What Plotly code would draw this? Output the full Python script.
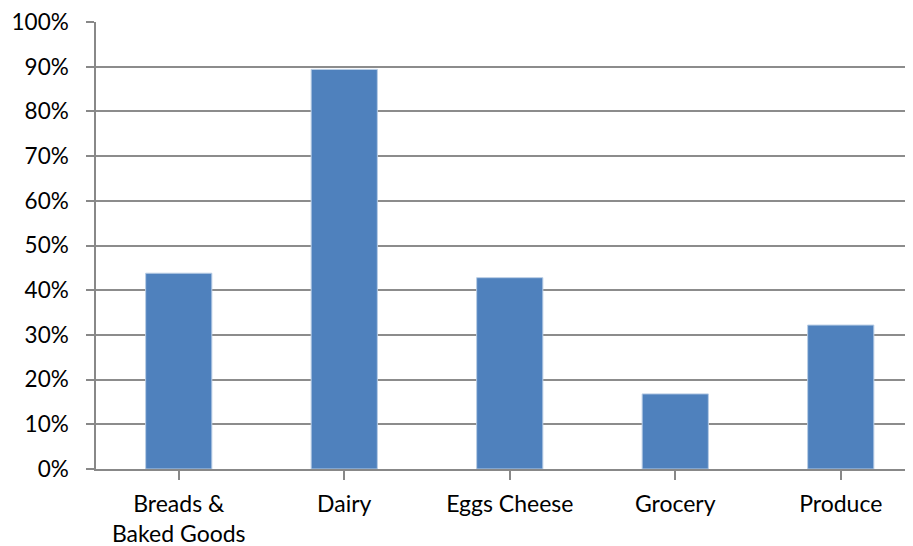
import plotly.graph_objects as go

categories = ["Breads &<br>Baked Goods", "Dairy", "Eggs Cheese", "Grocery", "Produce"]
values = [0.438, 0.894, 0.428, 0.168, 0.322]
y_ticks = [i / 10 for i in range(11)]
y_tick_labels = [f"{i*10}%" for i in range(11)]

fig = go.Figure(
    go.Bar(
        x=list(range(len(categories))),
        y=values,
        width=0.4,
        marker=dict(color="#4F81BD", line=dict(color="#B9CDE5", width=1)),
    )
)

# the page body adds an 8px offset, so the figure is sized to fit the window
OFF = 8
W, H = 913 - OFF, 546 - OFF
left, top, bottom = 96 - OFF, 22 - OFF, 77
cat_w = 165.5
plot_w = W - left
x_max = -0.5 + plot_w / cat_w

fig.update_layout(
    width=W,
    height=H,
    margin=dict(l=left, r=0, t=top, b=bottom),
    plot_bgcolor="white",
    paper_bgcolor="white",
    font=dict(family="Lato, Open Sans, sans-serif", size=22, color="#000000"),
    showlegend=False,
)

fig.update_xaxes(
    range=[-0.5, x_max],
    tickmode="array",
    tickvals=list(range(len(categories))),
    ticktext=categories,
    tickfont=dict(size=23),
    tickson="boundaries",
    ticks="outside",
    ticklen=9,
    tickcolor="#888888",
    tickwidth=1.5,
    ticklabelstandoff=5,
    ticklabeloverflow="allow",
    showline=True,
    linecolor="#888888",
    linewidth=1.5,
    showgrid=False,
    zeroline=False,
    automargin=False,
)

fig.update_yaxes(
    range=[0, 1],
    tickmode="array",
    tickvals=y_ticks,
    ticktext=y_tick_labels,
    tickfont=dict(size=22.5),
    ticks="outside",
    ticklen=8,
    tickcolor="#888888",
    tickwidth=1.5,
    ticklabelstandoff=13,
    ticklabeloverflow="allow",
    showline=True,
    linecolor="#888888",
    linewidth=1.5,
    showgrid=True,
    gridcolor="#8c8c8c",
    gridwidth=1.5,
    zeroline=False,
    automargin=False,
)

fig.write_html("out.html")
